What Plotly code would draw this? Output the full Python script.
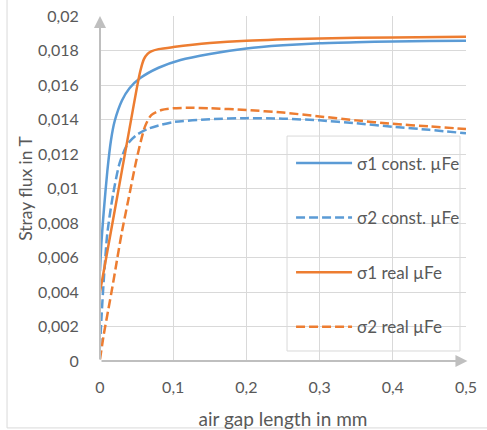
import plotly.graph_objects as go

# ---- data ----
x_s1_const = [0, 0.002, 0.005, 0.01, 0.015, 0.02, 0.03, 0.04, 0.055, 0.08, 0.11, 0.15, 0.2, 0.25, 0.3, 0.35, 0.4, 0.45, 0.5]
y_s1_const = [0.0052, 0.0069, 0.0086, 0.0110, 0.0128, 0.0139, 0.0151, 0.0158, 0.0164, 0.0170, 0.01745, 0.0178, 0.01812, 0.0183, 0.01842, 0.01848, 0.01852, 0.01855, 0.01857]

x_s2_const = [0, 0.002, 0.005, 0.01, 0.018, 0.027, 0.038, 0.05, 0.065, 0.084, 0.1, 0.15, 0.2, 0.25, 0.3, 0.35, 0.4, 0.45, 0.5]
y_s2_const = [0.0008, 0.0025, 0.0046, 0.0074, 0.0097, 0.0115, 0.0126, 0.0131, 0.01345, 0.0137, 0.01385, 0.01402, 0.01408, 0.01405, 0.01395, 0.01378, 0.01358, 0.0134, 0.0132]

x_s1_real = [0, 0.01, 0.02, 0.03, 0.04, 0.05, 0.055, 0.06, 0.065, 0.07, 0.08, 0.1, 0.15, 0.2, 0.3, 0.4, 0.5]
y_s1_real = [0.0040, 0.00635, 0.0087, 0.01105, 0.0134, 0.01575, 0.0168, 0.0175, 0.0178, 0.01795, 0.01808, 0.0182, 0.01843, 0.01857, 0.0187, 0.01876, 0.0188]

x_s2_real = [0, 0.005, 0.011, 0.017, 0.023, 0.03, 0.039, 0.05, 0.0615, 0.07, 0.084, 0.1, 0.12, 0.15, 0.2, 0.25, 0.3, 0.35, 0.4, 0.45, 0.5]
y_s2_real = [0.0001, 0.0015, 0.0029, 0.0043, 0.0058, 0.0075, 0.0094, 0.0117, 0.0136, 0.01425, 0.01455, 0.01465, 0.01468, 0.01465, 0.01455, 0.0144, 0.01418, 0.01395, 0.01375, 0.0136, 0.01345]

series_names = ["σ1 const. µFe", "σ2 const. µFe", "σ1 real µFe", "σ2 real µFe"]
x_ticks = [0, 0.1, 0.2, 0.3, 0.4, 0.5]
y_ticks = [0, 0.002, 0.004, 0.006, 0.008, 0.01, 0.012, 0.014, 0.016, 0.018, 0.02]

BLUE = "#5b9bd5"
ORANGE = "#ed7d31"
GRAY_TXT = "#595959"
GRID = "#d9d9d9"
AXIS = "#bfbfbf"
FONT = "Lato, Open Sans, sans-serif"

fig = go.Figure()
specs = [
    (x_s1_const, y_s1_const, series_names[0], BLUE, "solid"),
    (x_s2_const, y_s2_const, series_names[1], BLUE, "9px,4px"),
    (x_s1_real, y_s1_real, series_names[2], ORANGE, "solid"),
    (x_s2_real, y_s2_real, series_names[3], ORANGE, "9px,4px"),
]
for i, (xs, ys, nm, col, dash) in enumerate(specs):
    fig.add_trace(go.Scatter(
        x=xs, y=ys, name=nm, mode="lines", legendgroup=f"g{i}",
        line=dict(color=col, width=2.5, dash=dash, shape="spline", smoothing=0.7),
    ))

fig.update_layout(
    width=487, height=430,
    margin=dict(l=100, r=21, t=16, b=69, autoexpand=False),
    paper_bgcolor="white", plot_bgcolor="white",
    separators=", ",
    font=dict(family=FONT, color=GRAY_TXT, size=16),
    showlegend=True,
    legend=dict(
        x=0.522, y=0.625, xanchor="left", yanchor="top",
        bgcolor="rgba(0,0,0,0)", borderwidth=0,
        tracegroupgap=29.5, itemwidth=56,
        font=dict(family=FONT, size=17, color=GRAY_TXT),
    ),
    xaxis=dict(
        range=[0, 0.50001], tickvals=x_ticks, tickformat=".1~f",
        tickfont=dict(size=16, color=GRAY_TXT), ticklabeloverflow="allow",
        showgrid=True, gridcolor=GRID, gridwidth=1, zeroline=False,
        showline=False, ticks="outside", ticklen=12, tickcolor="rgba(0,0,0,0)",
        title=dict(text="air gap length in mm", font=dict(size=19, color=GRAY_TXT), standoff=22),
    ),
    yaxis=dict(
        range=[0, 0.0200005], tickvals=y_ticks, tickformat=".3~f",
        tickfont=dict(size=16, color=GRAY_TXT), ticklabeloverflow="allow",
        showgrid=True, gridcolor=GRID, gridwidth=1, zeroline=False,
        showline=False, ticks="outside", ticklen=17, tickcolor="rgba(0,0,0,0)",
        title=dict(text="Stray flux in T", font=dict(size=17.5, color=GRAY_TXT), standoff=0),
    ),
)

# legend box
fig.add_shape(type="rect", xref="paper", yref="paper",
              x0=0.511, x1=0.9836, y0=0.029, y1=0.652,
              line=dict(color=GRID, width=1), fillcolor="white", layer="between")

# axis lines with arrows
fig.add_annotation(x=0, y=0.02, ax=0, ay=0, xref="x", yref="y", axref="x", ayref="y",
                   showarrow=True, arrowhead=2, arrowsize=1.2, arrowwidth=2, arrowcolor=AXIS, text="")
fig.add_annotation(x=0.502, y=0, ax=0, ay=0, xref="x", yref="y", axref="x", ayref="y",
                   showarrow=True, arrowhead=2, arrowsize=1.2, arrowwidth=2, arrowcolor=AXIS, text="")

# chart outer border (left and bottom visible)
fig.add_shape(type="line", xref="paper", yref="paper", x0=-0.254, x1=-0.254, y0=1.06, y1=-0.194,
              line=dict(color=GRID, width=1))
fig.add_shape(type="line", xref="paper", yref="paper", x0=-0.254, x1=1.06, y0=-0.194, y1=-0.194,
              line=dict(color=GRID, width=1))

fig.write_html("out.html", config={"displayModeBar": False},
               post_script="document.body.style.margin='0px';")
